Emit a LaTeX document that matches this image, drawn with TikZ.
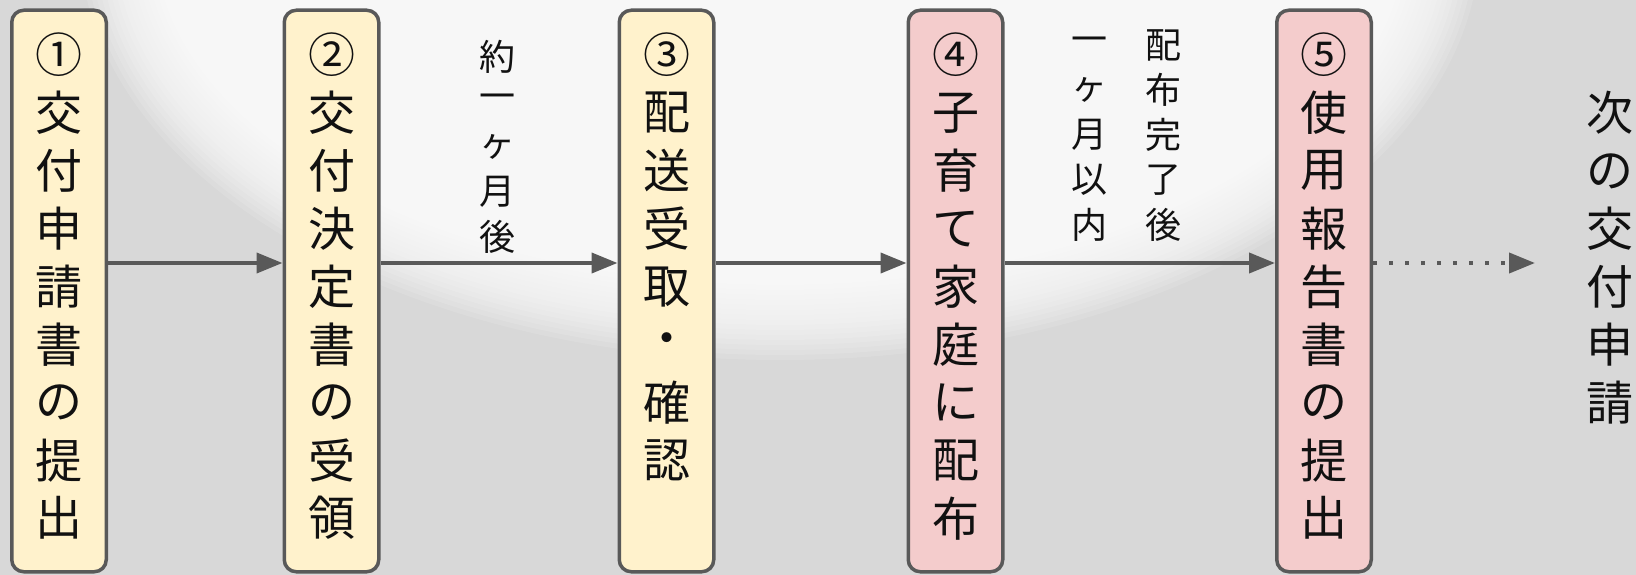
\documentclass[tikz,border=0pt]{standalone}
\usepackage{fontspec}
\setmainfont{Noto Sans CJK JP}
\usetikzlibrary{arrows.meta}
\definecolor{cream}{HTML}{FFF2CC}
\definecolor{pinkbox}{HTML}{F4CCCC}
\definecolor{edge}{HTML}{595959}
\definecolor{bg}{HTML}{D8D8D8}
\definecolor{ink}{HTML}{111111}
\tikzset{
  stepbox/.style={draw=edge, line width=3.5pt, rounded corners=12pt,
    minimum width=94.5pt, minimum height=561.5pt, inner sep=0pt},
  bigch/.style={inner sep=0pt, text=ink, font=\fontsize{47pt}{47pt}\selectfont},
  smallch/.style={inner sep=0pt, text=ink, font=\fontsize{36pt}{36pt}\selectfont},
  conn/.style={draw=edge, line width=4pt, -{Triangle[length=26pt,width=20pt]}},
}
\begin{document}
\begin{tikzpicture}[x=1pt,y=-1pt]
\useasboundingbox (0,0) rectangle (1636,575);
% background
\fill[bg] (0,0) rectangle (1636,575);
\foreach \r in {0,...,19} {
  \fill[white, opacity=0.12] (780,-60) ellipse [x radius={700-5*\r}, y radius={420-5*\r}];
}
% boxes
\node[stepbox, fill=cream]   (b1) at (59,291)    {};
\node[stepbox, fill=cream]   (b2) at (331.5,291) {};
\node[stepbox, fill=cream]   (b3) at (666.5,291) {};
\node[stepbox, fill=pinkbox] (b4) at (955.5,291) {};
\node[stepbox, fill=pinkbox] (b5) at (1324,291)  {};
% box texts
\foreach \c [count=\i] in {①,交,付,申,請,書,の,提,出}
  \node[bigch] (b1c\i) at (59,{55+57.9*(\i-1)}) {\c};
\foreach \c [count=\i] in {②,交,付,決,定,書,の,受,領}
  \node[bigch] (b2c\i) at (331.5,{55+57.9*(\i-1)}) {\c};
\foreach \c [count=\i] in {③,配,送,受,取,・,確,認}
  \node[bigch] (b3c\i) at (666.5,{55+57.9*(\i-1)}) {\c};
\foreach \c [count=\i] in {④,子,育,て,家,庭,に,配,布}
  \node[bigch] (b4c\i) at (955.5,{55+57.9*(\i-1)}) {\c};
\foreach \c [count=\i] in {⑤,使,用,報,告,書,の,提,出}
  \node[bigch] (b5c\i) at (1324,{55+57.9*(\i-1)}) {\c};
% final text
\foreach \c [count=\i] in {次,の,交,付,申,請}
  \node[bigch] (nc\i) at (1610,{113+57.9*(\i-1)}) {\c};
% labels
\foreach \c [count=\i] in {約,一,ヶ,月,後}
  \node[smallch] (la\i) at (497,{57+45*(\i-1)}) {\c};
\foreach \c [count=\i] in {配,布,完,了,後}
  \node[smallch] (lb\i) at (1163,{45+45*(\i-1)}) {\c};
\foreach \c [count=\i] in {一,ヶ,月,以,内}
  \node[smallch] (lc\i) at (1089,{45+45*(\i-1)}) {\c};
% connectors
\coordinate (row) at (0,263);
\coordinate (nx) at (1535,263);
\draw[conn] (b1.east |- row) -- (b2.west |- row);
\draw[conn] (b2.east |- row) -- (b3.west |- row);
\draw[conn] (b3.east |- row) -- (b4.west |- row);
\draw[conn] (b4.east |- row) -- (b5.west |- row);
\draw[conn, dash pattern=on 4pt off 12pt] (b5.east |- row) -- (nx);
\end{tikzpicture}
\end{document}
